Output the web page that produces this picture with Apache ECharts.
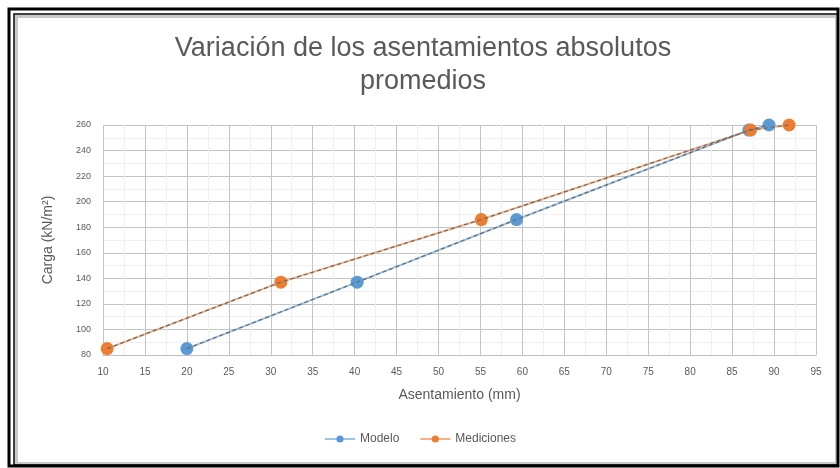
<!DOCTYPE html>
<html>
<head>
<meta charset="utf-8">
<script src="https://cdn.jsdelivr.net/npm/echarts@6/dist/echarts.min.js"></script>
<style>
  html, body { margin: 0; padding: 0; background: #ffffff; }
  #chart { width: 840px; height: 468px; }
</style>
</head>
<body>
<div id="chart"></div>
<script>
// Asentamiento (mm) and Carga (kN/m²) for each series
const modeloAsent = [20, 40.3, 59.3, 87, 89.4];
const modeloCarga = [85, 137, 186, 256, 260];
const medicionesAsent = [10.5, 31.2, 55.1, 87.2, 91.8];
const medicionesCarga = [85, 137, 186, 256, 260];

const seriesNames = ['Modelo', 'Mediciones'];
const seriesColors = ['#5B9BD5', '#ED7D31'];

const xMin = 10, xMax = 95, xStep = 5;
const yMin = 80, yMax = 260, yStep = 20;

function pairs(xs, ys) { return xs.map((x, i) => [x, ys[i]]); }

const dataSets = [pairs(modeloAsent, modeloCarga), pairs(medicionesAsent, medicionesCarga)];

const series = [];
dataSets.forEach((d, i) => {
  series.push({
    name: seriesNames[i],
    type: 'line',
    data: d,
    symbol: 'circle',
    symbolSize: 13,
    clip: false,
    itemStyle: { color: seriesColors[i] },
    lineStyle: { color: seriesColors[i], width: 2, opacity: 0.6 },
    z: 3
  });
});
// dark dashed trace drawn over each series
dataSets.forEach((d) => {
  series.push({
    type: 'line',
    data: d,
    symbol: 'none',
    silent: true,
    clip: false,
    lineStyle: { color: '#6b6b6b', width: 1.2, type: [4, 3] },
    z: 4
  });
});

const chart = echarts.init(document.getElementById('chart'), null, { renderer: 'canvas' });
chart.setOption({
  backgroundColor: '#ffffff',
  animation: false,
  title: {
    text: 'Variación de los asentamientos absolutos\npromedios',
    left: 418,
    top: 27,
    textAlign: 'center',
    textStyle: {
      fontFamily: 'Liberation Sans, Arial, sans-serif',
      fontSize: 27,
      fontWeight: 'normal',
      color: '#595959',
      lineHeight: 33
    }
  },
  legend: {
    data: seriesNames,
    bottom: 18,
    left: 'center',
    itemWidth: 30,
    itemHeight: 9,
    itemGap: 20,
    textStyle: { fontFamily: 'Liberation Sans, sans-serif', fontSize: 12, color: '#595959' }
  },
  grid: { left: 103, right: 24, top: 125, bottom: 113 },
  xAxis: {
    type: 'value',
    min: xMin, max: xMax, interval: xStep,
    name: 'Asentamiento (mm)',
    nameLocation: 'middle',
    nameGap: 33,
    nameTextStyle: { fontFamily: 'Liberation Sans, sans-serif', fontSize: 14, color: '#595959' },
    axisLine: { show: true, lineStyle: { color: '#bfbfbf' } },
    axisTick: { show: false },
    axisLabel: { fontSize: 10, color: '#595959', margin: 12 },
    splitLine: { show: true, lineStyle: { color: '#c4c4c4', width: 1 } },
    minorTick: { show: false, splitNumber: 2 },
    minorSplitLine: { show: true, lineStyle: { color: '#f0f0f0', width: 1 } }
  },
  yAxis: {
    type: 'value',
    min: yMin, max: yMax, interval: yStep,
    name: 'Carga (kN/m²)',
    nameLocation: 'middle',
    nameGap: 48,
    nameTextStyle: { fontFamily: 'Liberation Sans, sans-serif', fontSize: 14, color: '#595959' },
    axisLine: { show: false },
    axisTick: { show: false },
    axisLabel: { fontSize: 9, color: '#595959', margin: 12 },
    splitLine: { show: true, lineStyle: { color: '#c4c4c4', width: 1 } },
    minorTick: { show: false, splitNumber: 2 },
    minorSplitLine: { show: true, lineStyle: { color: '#f0f0f0', width: 1 } }
  },
  graphic: [
    // framed border around the chart area
    { type: 'rect', shape: { x: 9, y: 9, width: 829, height: 457 }, style: { fill: 'none', stroke: '#000', lineWidth: 3 }, z: 100 },
    { type: 'rect', shape: { x: 14, y: 14, width: 824, height: 451 }, style: { fill: 'none', stroke: '#000', lineWidth: 1.5 }, z: 100 },
    { type: 'rect', shape: { x: 16.5, y: 16.5, width: 820, height: 447 }, style: { fill: 'none', stroke: '#c8c8c8', lineWidth: 3 }, z: 99 }
  ],
  series: series
});
</script>
</body>
</html>
